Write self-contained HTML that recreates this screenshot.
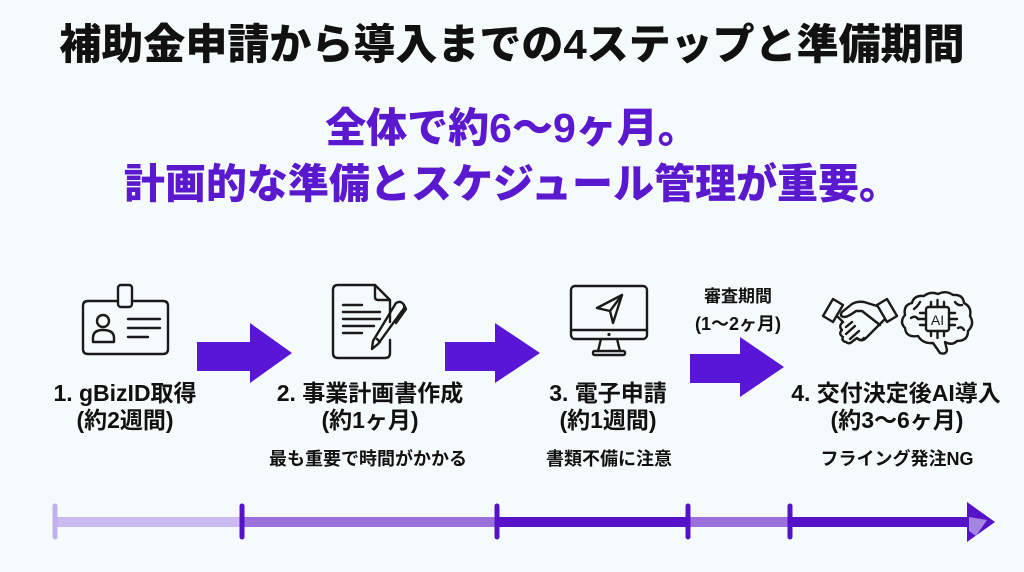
<!DOCTYPE html>
<html><head><meta charset="utf-8">
<style>
html,body{margin:0;padding:0;}
body{width:1024px;height:572px;background:#f5fafb;position:relative;overflow:hidden;font-family:"Liberation Sans","Noto Sans CJK JP",sans-serif;}
.t{position:absolute;left:0;white-space:nowrap;text-align:center;line-height:1;}
svg{position:absolute;left:0;top:0;}
</style></head><body>
<svg width="1024" height="572" viewBox="0 0 1024 572">
  <!-- big arrows -->
  <g fill="#5a16d6">
    <polygon points="197,342 250,342 250,323 292,353 250,383 250,371 197,371"/>
    <polygon points="445,342 495,342 495,323 540,353 495,383 495,371 445,371"/>
    <polygon points="690,354 740,354 740,337 784,367 740,397 740,383 690,383"/>
  </g>
  <g fill="none" stroke="#1a1a1a" stroke-width="2.4" stroke-linecap="round" stroke-linejoin="round">
    <!-- ID card -->
    <path d="M118,301 H88 Q83,301 83,306 V349 Q83,354 88,354 H163 Q168,354 168,349 V306 Q168,301 163,301 H132"/>
    <rect x="118" y="285" width="14" height="22" rx="3"/>
    <circle cx="103" cy="321" r="6"/>
    <path d="M93,342 V338 Q93,330 103,330 Q114,330 114,338 V342 Z"/>
    <line x1="128" y1="319" x2="160" y2="319"/>
    <line x1="128" y1="328" x2="160" y2="328"/>
    <line x1="128" y1="337" x2="148" y2="337"/>
    <!-- document -->
    <path d="M375,285 H338 Q333,285 333,290 V353 Q333,358 338,358 H385 Q390,358 390,353 V340"/>
    <path d="M390,322 V300 L375,285 V297 Q375,300 378,300 H390"/>
    <line x1="343" y1="305" x2="362" y2="305"/>
    <line x1="343" y1="312" x2="380" y2="312"/>
    <line x1="343" y1="319" x2="380" y2="319"/>
    <line x1="343" y1="326" x2="374" y2="326"/>
    <line x1="343" y1="333" x2="362" y2="333"/>
    <path d="M396,303 Q401,300 404,305 Q405,308 402,311 L378,344 L372,349 L373,341 Z"/>
    <line x1="377" y1="339" x2="380" y2="342"/>
    <path d="M404,305 L406,309 L396,323"/>
    <!-- monitor -->
    <rect x="571" y="286" width="76" height="53" rx="4"/>
    <line x1="571" y1="330" x2="647" y2="330"/>
    <path d="M601,339 L598,351 M617,339 L620,351"/>
    <rect x="593" y="351" width="32" height="4" rx="1.5"/>
    <path d="M597,308 L622,295 L613,323 L610,311 Z"/>
    <line x1="610" y1="311" x2="622" y2="295"/>
    <!-- handshake -->
    <polygon points="823,316 833,299 843,305 833,322"/>
    <polygon points="887,299 897,316 887,322 877,305"/>
    <path d="M877,306 L864,302 Q857,301 852,304 L842,312 Q839,316 844,317 Q848,317 856,311 L862,311 L880,325"/>
    <path d="M838,317 L843,322"/>
    <path d="M884,320 L866,338 Q862,342 858,339"/>
    <path d="M843,322 Q838,326 842,330 Q838,334 843,337 Q841,341 846,342 Q849,345 853,341 L857,338 Q861,342 864,338"/>
    <path d="M846,327 L852,322 M846,334 L855,326 M850,339 L859,331"/>
    <!-- brain -->
    <path d="M918,336 Q906,338 905,328 Q899,322 905,315 Q903,305 912,303 Q914,295 924,296 Q930,291 938,294 Q946,290 953,295 Q963,294 964,303 Q972,307 970,316 Q975,324 968,331 Q968,341 957,341 Q952,346 945,342 L947,350 Q946,355 940,353 L933,343 Q923,344 918,336 Z"/>
    <rect x="926" y="307" width="23" height="24" rx="2.5"/>
    <path d="M931,307 V302 M937.5,307 V300 M944,307 V302 M931,331 V336 M937.5,331 V338 M944,331 V336 M926,313 H920 M926,319 H918 M926,325 H920 M949,313 H955 M949,319 H957 M949,325 H955"/>
    <path d="M911,318 Q915,315 918,319 M958,328 Q962,326 964,330 M914,309 Q918,306 920,302 M955,302 Q958,306 962,305"/>
  </g>
  <text x="937.5" y="325" text-anchor="middle" font-family="Liberation Sans, sans-serif" font-size="14" fill="#1a1a1a">AI</text>
  <circle cx="609" cy="334.5" r="1.6" fill="#1a1a1a"/>

  <!-- timeline -->
  <rect x="55" y="517" width="188" height="10" fill="#cbbaf0"/>
  <rect x="242" y="517" width="256" height="10" fill="#9b70dd"/>
  <rect x="497" y="517" width="192" height="10" fill="#5512c8"/>
  <rect x="688" y="517" width="103" height="10" fill="#9b70dd"/>
  <rect x="790" y="517" width="178" height="10" fill="#5512c8"/>
  <polygon points="967,502 995,522 967,542" fill="#5512c8"/>
  <polygon points="969,517 987,520 976,536 969,531" fill="#a384e0"/>
  <g stroke-width="5" stroke-linecap="round">
    <line x1="55" y1="506" x2="55" y2="537" stroke="#c4b0ec"/>
    <line x1="242" y1="506" x2="242" y2="537" stroke="#5512c8"/>
    <line x1="497" y1="506" x2="497" y2="537" stroke="#5512c8"/>
    <line x1="688" y1="506" x2="688" y2="537" stroke="#5512c8"/>
    <line x1="790" y1="506" x2="790" y2="537" stroke="#5512c8"/>
  </g>
</svg>

<div class="t" style="width:1024px;top:24px;font-size:42px;font-weight:900;color:#111;">補助金申請から導入までの4ステップと準備期間</div>
<div class="t" style="width:1024px;top:108px;font-size:41px;font-weight:900;color:#5a18cf;">全体で約6〜9ヶ月。</div>
<div class="t" style="width:1024px;top:164px;font-size:41px;font-weight:900;color:#5a18cf;">計画的な準備とスケジュール管理が重要。</div>

<div class="t" style="left:638px;width:200px;top:288px;font-size:17px;font-weight:700;color:#111;">審査期間</div>
<div class="t" style="left:638px;width:200px;top:315px;font-size:18px;font-weight:700;color:#111;">(1〜2ヶ月)</div>

<div class="t" style="left:-25px;width:300px;top:382px;font-size:23px;font-weight:700;color:#111;">1. gBizID取得</div>
<div class="t" style="left:-25px;width:300px;top:409px;font-size:23px;font-weight:700;color:#111;">(約2週間)</div>

<div class="t" style="left:220px;width:300px;top:382px;font-size:23px;font-weight:700;color:#111;">2. 事業計画書作成</div>
<div class="t" style="left:220px;width:300px;top:409px;font-size:23px;font-weight:700;color:#111;">(約1ヶ月)</div>
<div class="t" style="left:218px;width:300px;top:450px;font-size:18px;font-weight:700;color:#111;">最も重要で時間がかかる</div>

<div class="t" style="left:458px;width:300px;top:382px;font-size:23px;font-weight:700;color:#111;">3. 電子申請</div>
<div class="t" style="left:458px;width:300px;top:409px;font-size:23px;font-weight:700;color:#111;">(約1週間)</div>
<div class="t" style="left:459px;width:300px;top:450px;font-size:18px;font-weight:700;color:#111;">書類不備に注意</div>

<div class="t" style="left:746px;width:300px;top:382px;font-size:23px;font-weight:700;color:#111;">4. 交付決定後AI導入</div>
<div class="t" style="left:747px;width:300px;top:409px;font-size:23px;font-weight:700;color:#111;">(約3〜6ヶ月)</div>
<div class="t" style="left:747px;width:300px;top:450px;font-size:18px;font-weight:700;color:#111;">フライング発注NG</div>
</body></html>
